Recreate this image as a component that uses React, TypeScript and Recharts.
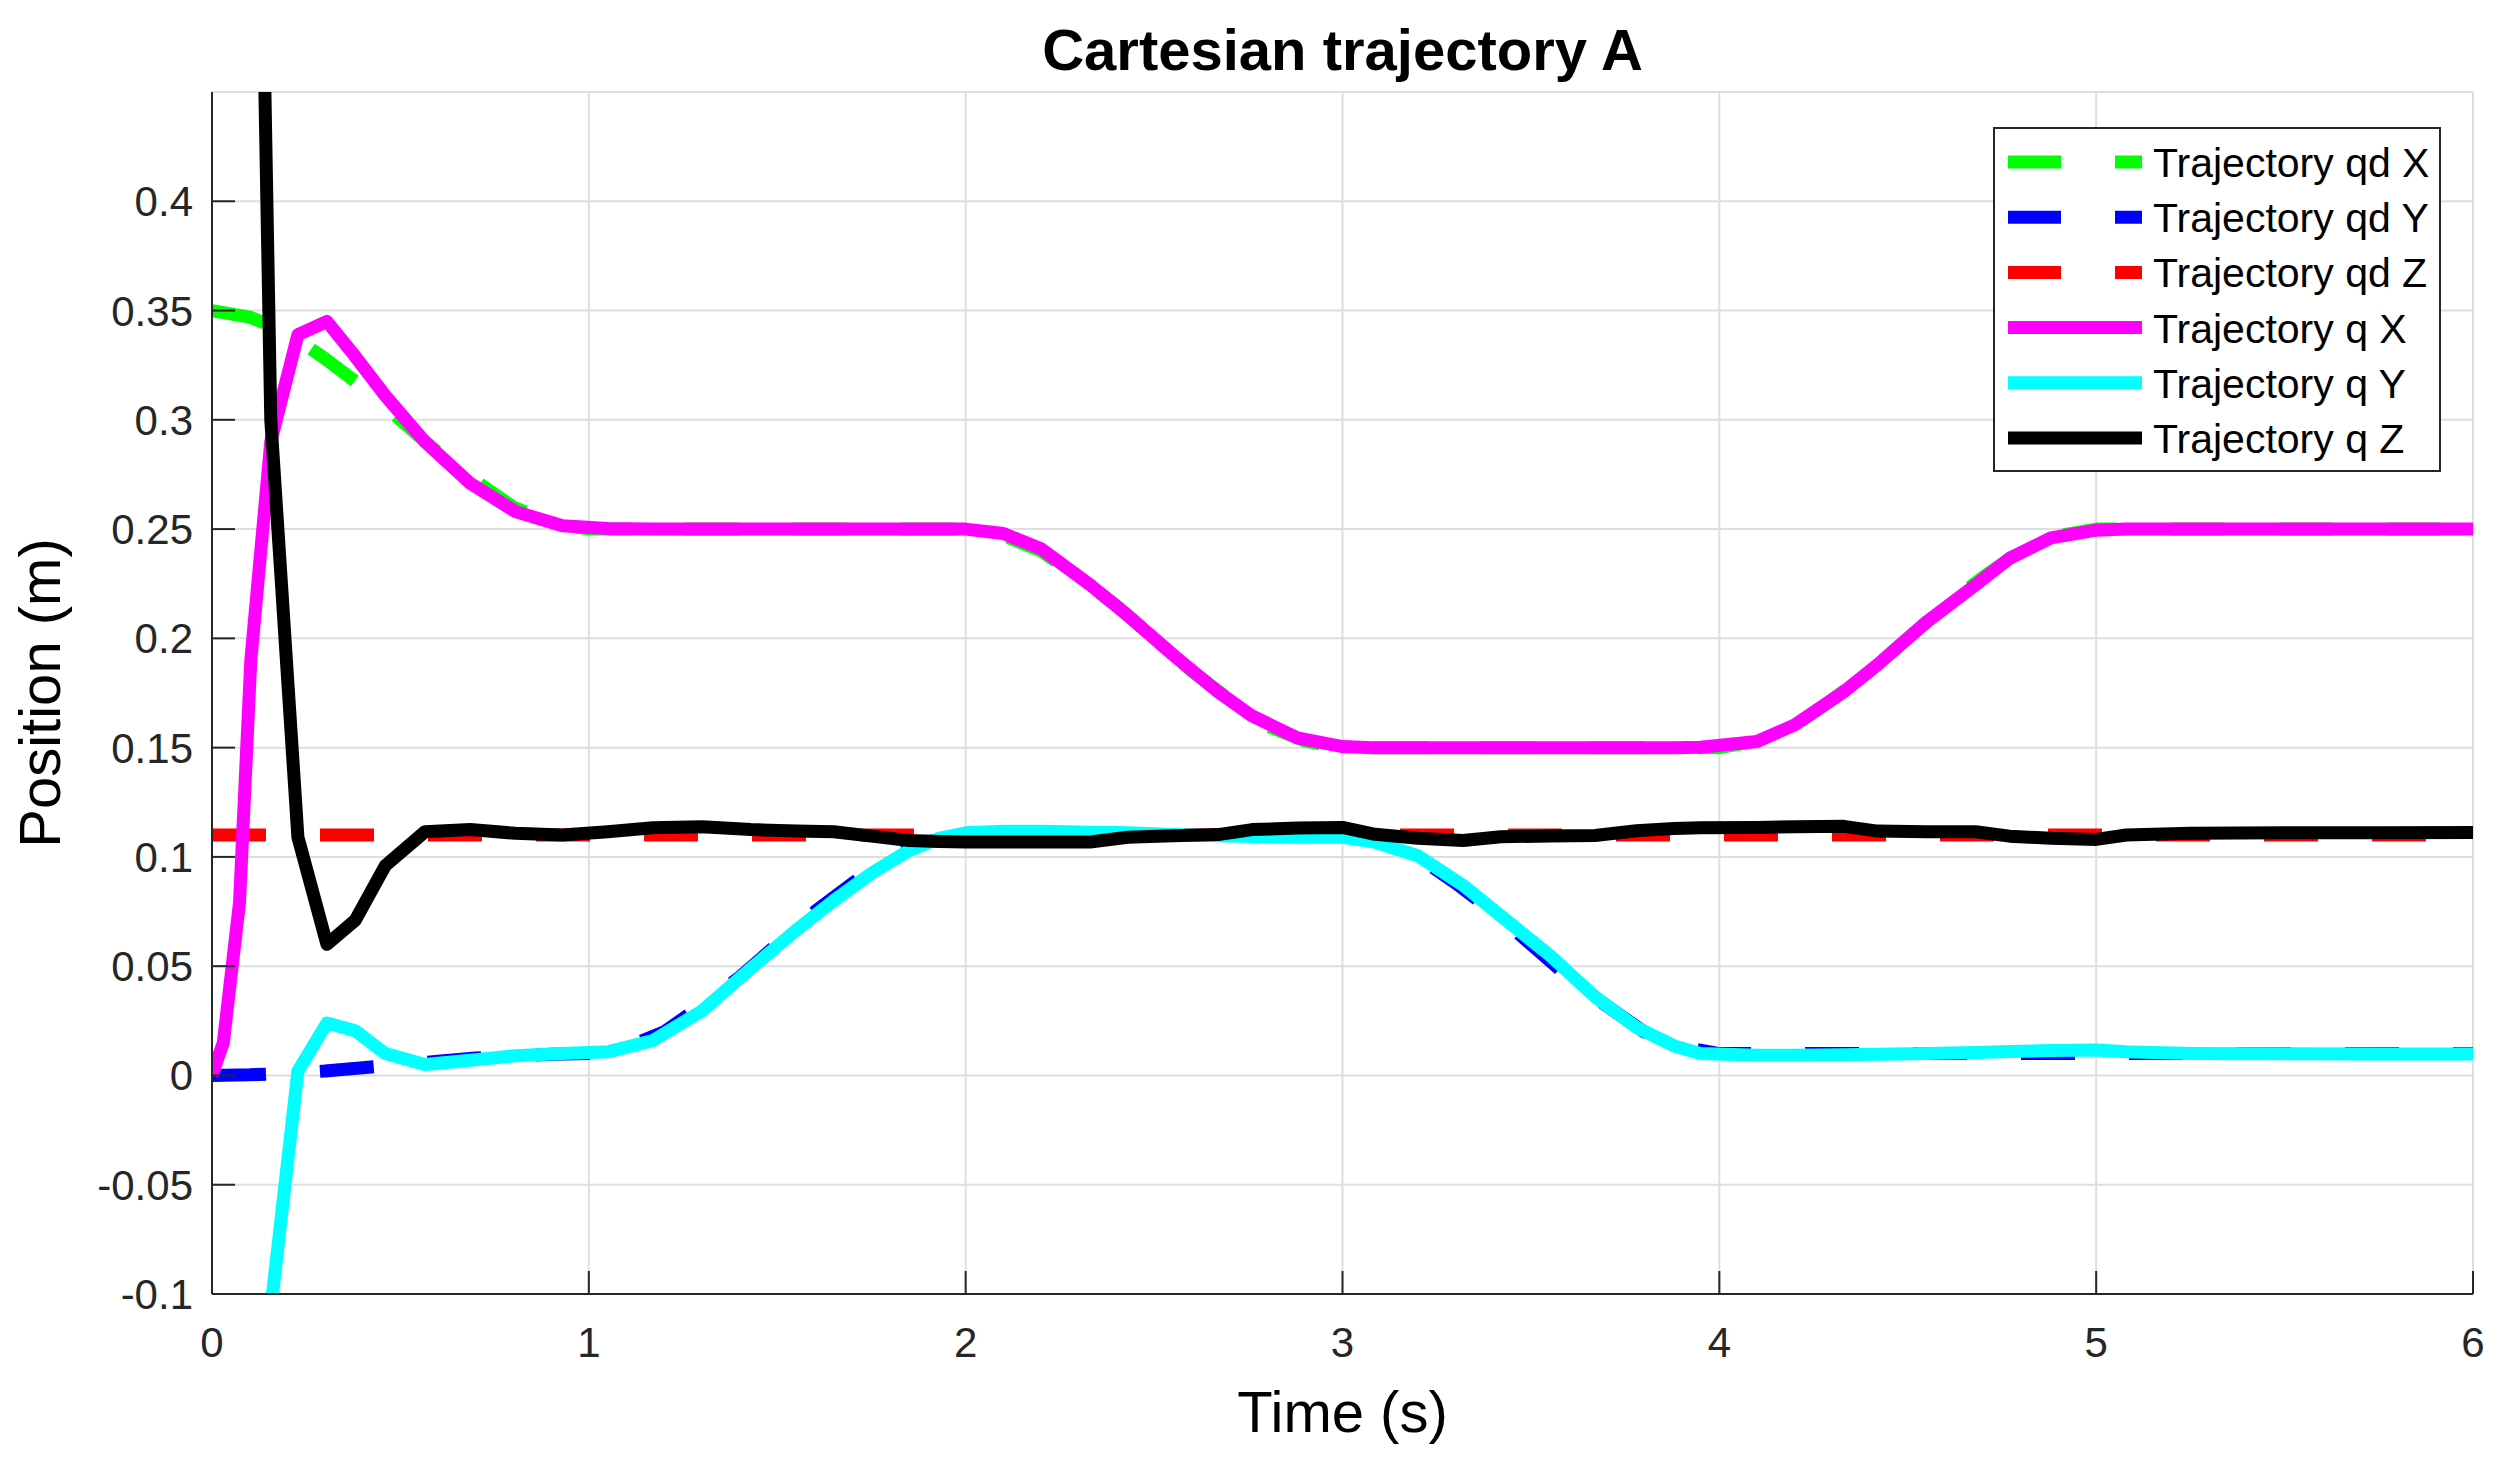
import React from 'react';
import { CartesianGrid, Line, LineChart, XAxis, YAxis } from 'recharts';

// tick values
const timeTicks = [0, 1, 2, 3, 4, 5, 6];
const positionTicks = [-0.1, -0.05, 0, 0.05, 0.1, 0.15, 0.2, 0.25, 0.3, 0.35, 0.4];

// desired trajectory qd (sampled every 0.1 s)
const qdTime = [
    0, 0.1, 0.2, 0.3, 0.4, 0.5, 0.6, 0.7, 0.8, 0.9, 1.0,
    1.1, 1.2, 1.3, 1.4, 1.5, 1.6, 1.7, 1.8, 1.9, 2.0,
    2.1, 2.2, 2.3, 2.4, 2.5, 2.6, 2.7, 2.8, 2.9, 3.0,
    3.1, 3.2, 3.3, 3.4, 3.5, 3.6, 3.7, 3.8, 3.9, 4.0,
    4.1, 4.2, 4.3, 4.4, 4.5, 4.6, 4.7, 4.8, 4.9, 5.0,
    5.1, 5.2, 5.3, 5.4, 5.5, 5.6, 5.7, 5.8, 5.9, 6.0,
];
const qdX = [
    0.35, 0.347, 0.34, 0.328, 0.315, 0.3, 0.285, 0.272, 0.26, 0.253, 0.25,
    0.25, 0.25, 0.25, 0.25, 0.25, 0.25, 0.25, 0.25, 0.25, 0.25,
    0.247, 0.24, 0.228, 0.215, 0.2, 0.185, 0.172, 0.16, 0.153, 0.15,
    0.15, 0.15, 0.15, 0.15, 0.15, 0.15, 0.15, 0.15, 0.15, 0.15,
    0.153, 0.16, 0.172, 0.185, 0.2, 0.215, 0.228, 0.24, 0.247, 0.25,
    0.25, 0.25, 0.25, 0.25, 0.25, 0.25, 0.25, 0.25, 0.25, 0.25,
];
const qdY = [
    0, 0.0003, 0.001, 0.002, 0.0035, 0.005, 0.0065, 0.008, 0.009, 0.0097, 0.01,
    0.013, 0.02, 0.032, 0.045, 0.06, 0.075, 0.088, 0.1, 0.107, 0.11,
    0.11, 0.11, 0.11, 0.11, 0.11, 0.11, 0.11, 0.11, 0.11, 0.11,
    0.107, 0.1, 0.088, 0.075, 0.06, 0.045, 0.032, 0.02, 0.013, 0.01,
    0.01, 0.01, 0.01, 0.01, 0.01, 0.01, 0.01, 0.01, 0.01, 0.01,
    0.01, 0.01, 0.01, 0.01, 0.01, 0.01, 0.01, 0.01, 0.01, 0.01,
];
const qdZ = [
    0.11, 0.11, 0.11, 0.11, 0.11, 0.11, 0.11, 0.11, 0.11, 0.11, 0.11,
    0.11, 0.11, 0.11, 0.11, 0.11, 0.11, 0.11, 0.11, 0.11, 0.11,
    0.11, 0.11, 0.11, 0.11, 0.11, 0.11, 0.11, 0.11, 0.11, 0.11,
    0.11, 0.11, 0.11, 0.11, 0.11, 0.11, 0.11, 0.11, 0.11, 0.11,
    0.11, 0.11, 0.11, 0.11, 0.11, 0.11, 0.11, 0.11, 0.11, 0.11,
    0.11, 0.11, 0.11, 0.11, 0.11, 0.11, 0.11, 0.11, 0.11, 0.11,
];

// measured trajectory q
const qTime = [
    0, 0.03, 0.073, 0.103, 0.156, 0.228, 0.305, 0.38, 0.46, 0.565,
    0.685, 0.805, 0.93, 1.05, 1.17, 1.3, 1.43, 1.55, 1.65, 1.75,
    1.85, 1.93, 2.0, 2.1, 2.2, 2.33, 2.43, 2.55, 2.67, 2.76,
    2.88, 3.0, 3.08, 3.2, 3.32, 3.42, 3.55, 3.67, 3.78, 3.88,
    3.95, 4.1, 4.2, 4.33, 4.42, 4.55, 4.68, 4.77, 4.88, 5.0,
    5.08, 5.25, 5.5, 5.75, 6.0,
];
const qX = [
    0, 0.015, 0.079, 0.19, 0.29, 0.339, 0.345, 0.329, 0.311, 0.29,
    0.271, 0.258, 0.2515, 0.2503, 0.25, 0.25, 0.25, 0.25, 0.25, 0.25,
    0.25, 0.25, 0.25, 0.248, 0.241, 0.2245, 0.2105, 0.1925, 0.1755, 0.1645,
    0.1545, 0.1505, 0.15, 0.15, 0.15, 0.15, 0.15, 0.15, 0.15, 0.15,
    0.1502, 0.1528, 0.1604, 0.1755, 0.188, 0.2075, 0.2245, 0.2366, 0.246, 0.2495,
    0.25, 0.25, 0.25, 0.25, 0.25,
];
const qY = [
    -0.35, -0.3, -0.22, -0.17, -0.107, 0.002, 0.024, 0.0205, 0.01, 0.005,
    0.007, 0.009, 0.01, 0.0108, 0.016, 0.0295, 0.049, 0.0665, 0.08, 0.0925,
    0.103, 0.1085, 0.111, 0.1117, 0.1117, 0.1113, 0.111, 0.1103, 0.1097, 0.1093,
    0.109, 0.109, 0.107, 0.1005, 0.087, 0.073, 0.055, 0.036, 0.022, 0.0135,
    0.01, 0.0093, 0.0093, 0.0095, 0.0097, 0.01, 0.0105, 0.011, 0.0114, 0.0116,
    0.0108, 0.0101, 0.0099, 0.0098, 0.0098,
];
const qZ = [
    1.25, 1.15, 1.0, 0.81, 0.3, 0.109, 0.06, 0.071, 0.096, 0.1115,
    0.1125, 0.1108, 0.11, 0.1115, 0.1133, 0.1138, 0.1125, 0.1118, 0.1115, 0.1095,
    0.1075, 0.107, 0.1068, 0.1068, 0.1068, 0.1068, 0.109, 0.1097, 0.1102, 0.1125,
    0.1132, 0.1135, 0.1105, 0.1085, 0.1075, 0.1092, 0.1096, 0.1098, 0.112, 0.113,
    0.1133, 0.1135, 0.1138, 0.114, 0.1118, 0.1115, 0.1115, 0.1095, 0.1085, 0.108,
    0.11, 0.1108, 0.111, 0.111, 0.1112,
];

const qdData = qdTime.map((t, i) => ({ t, x: qdX[i], y: qdY[i], z: qdZ[i] }));
const qData = qTime.map((t, i) => ({ t, x: qX[i], y: qY[i], z: qZ[i] }));

const series = [
    { name: 'Trajectory qd X', data: qdData, key: 'x', color: '#00ff00', dash: true },
    { name: 'Trajectory qd Y', data: qdData, key: 'y', color: '#0000ff', dash: true },
    { name: 'Trajectory qd Z', data: qdData, key: 'z', color: '#ff0000', dash: true },
    { name: 'Trajectory q X', data: qData, key: 'x', color: '#ff00ff', dash: false },
    { name: 'Trajectory q Y', data: qData, key: 'y', color: '#00ffff', dash: false },
    { name: 'Trajectory q Z', data: qData, key: 'z', color: '#000000', dash: false },
];

const W = 2484;
const H = 1440;
const PLOT = { left: 204, top: 84, right: 2465, bottom: 1286 };
const AXIS = '#262626';
const FONT = '"Liberation Sans", Arial, Helvetica, sans-serif';
const TICK = 23;
const LW = 13;

const LeftTick = (props: any) => {
    const { x, y, payload } = props;
    return (
        <g>
            <line x1={x} y1={y} x2={x + TICK} y2={y} stroke={AXIS} strokeWidth={2} />
            <text x={x - 19} y={y + 15} textAnchor="end" fontSize={42} fill={AXIS} fontFamily={FONT}>{payload.value}</text>
        </g>
    );
};
const RightTick = (props: any) => {
    const { x, y } = props;
    return <line x1={x} y1={y} x2={x - TICK} y2={y} stroke={AXIS} strokeWidth={2} />;
};
const BottomTick = (props: any) => {
    const { x, y, payload } = props;
    return (
        <g>
            <line x1={x} y1={y} x2={x} y2={y - TICK} stroke={AXIS} strokeWidth={2} />
            <text x={x} y={y + 63} textAnchor="middle" fontSize={42} fill={AXIS} fontFamily={FONT}>{payload.value}</text>
        </g>
    );
};
const TopTick = (props: any) => {
    const { x, y } = props;
    return <line x1={x} y1={y} x2={x} y2={y + TICK} stroke={AXIS} strokeWidth={2} />;
};

const midX = (PLOT.left + PLOT.right) / 2;
const midY = (PLOT.top + PLOT.bottom) / 2;

const XLabel = () => (
    <text x={midX} y={1424} textAnchor="middle" fontSize={58} fill="#000" fontFamily={FONT}>Time (s)</text>
);
const YLabel = () => (
    <text x={52} y={midY} transform={`rotate(-90 52 ${midY})`} textAnchor="middle" fontSize={58} fill="#000" fontFamily={FONT}>Position (m)</text>
);

const legendBox = { x: 1986, y: 120, w: 446, h: 343 };
const rowGap = 55.2;

export default function App() {
    return (
        <div style={{ position: 'relative', width: W, height: H, fontFamily: FONT }}>
            <LineChart width={W} height={H} margin={{ top: PLOT.top, right: W - PLOT.right, bottom: 0, left: 0 }}>
                <CartesianGrid stroke="#dedede" strokeWidth={2} />
                <XAxis dataKey="t" type="number" domain={[0, 6]} ticks={timeTicks} allowDataOverflow
                    height={H - PLOT.bottom} tickSize={0} tickMargin={0} tickLine={false} tick={<BottomTick />}
                    axisLine={{ stroke: AXIS, strokeWidth: 2 }} label={{ content: XLabel }} />
                <XAxis xAxisId="top" orientation="top" dataKey="t" type="number" domain={[0, 6]} ticks={timeTicks}
                    height={0} tickSize={0} tickMargin={0} tickLine={false} tick={<TopTick />}
                    axisLine={{ stroke: AXIS, strokeWidth: 2 }} />
                <YAxis type="number" domain={[-0.1, 0.45]} ticks={positionTicks} allowDataOverflow
                    width={PLOT.left} tickSize={0} tickMargin={0} tickLine={false} tick={<LeftTick />}
                    axisLine={{ stroke: AXIS, strokeWidth: 2 }} label={{ content: YLabel }} />
                <YAxis yAxisId="right" orientation="right" type="number" domain={[-0.1, 0.45]} ticks={positionTicks}
                    width={0} tickSize={0} tickMargin={0} tickLine={false} tick={<RightTick />}
                    axisLine={{ stroke: AXIS, strokeWidth: 2 }} />
                {series.map((s) => (
                    <Line key={s.name} name={s.name} data={s.data} dataKey={s.key} type="linear"
                        stroke={s.color} strokeWidth={LW} strokeDasharray={s.dash ? '54 54' : undefined}
                        strokeLinejoin="round" dot={false} activeDot={false} isAnimationActive={false} />
                ))}
            </LineChart>
            <svg width={W} height={H} style={{ position: 'absolute', left: 0, top: 0, pointerEvents: 'none' }}>
                <text x={midX} y={62} textAnchor="middle" fontSize={58} fontWeight="bold" fill="#000" fontFamily={FONT}>
                    Cartesian trajectory A
                </text>
                <rect x={legendBox.x} y={legendBox.y} width={legendBox.w} height={legendBox.h}
                    fill="#fff" stroke={AXIS} strokeWidth={2} />
                {series.map((s, i) => {
                    const cy = legendBox.y + 34 + i * rowGap;
                    return (
                        <g key={s.name}>
                            <line x1={legendBox.x + 14} x2={legendBox.x + 148} y1={cy} y2={cy} stroke={s.color}
                                strokeWidth={LW} strokeDasharray={s.dash ? '53 54' : undefined} />
                            <text x={legendBox.x + 159} y={cy + 15} fontSize={41} fill="#000" fontFamily={FONT}>{s.name}</text>
                        </g>
                    );
                })}
            </svg>
        </div>
    );
}
